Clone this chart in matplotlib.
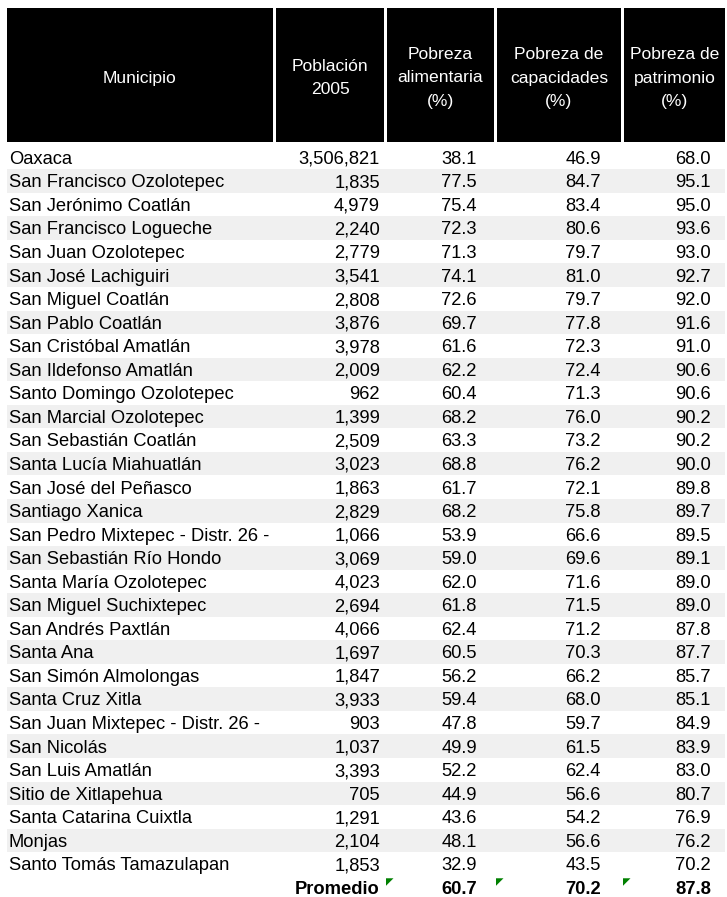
import matplotlib
matplotlib.use("Agg")
import matplotlib.pyplot as plt
from matplotlib.patches import Rectangle, Polygon

plt.rcParams['font.family'] = ['Liberation Sans', 'DejaVu Sans']

headers = ["Municipio", "Población\n2005", "Pobreza\nalimentaria\n(%)",
           "Pobreza de\ncapacidades\n(%)", "Pobreza de\npatrimonio\n(%)"]

municipios = [
    "Oaxaca", "San Francisco Ozolotepec", "San Jerónimo Coatlán", "San Francisco Logueche",
    "San Juan Ozolotepec", "San José Lachiguiri", "San Miguel Coatlán", "San Pablo Coatlán",
    "San Cristóbal Amatlán", "San Ildefonso Amatlán", "Santo Domingo Ozolotepec",
    "San Marcial Ozolotepec", "San Sebastián Coatlán", "Santa Lucía Miahuatlán",
    "San José del Peñasco", "Santiago Xanica", "San Pedro Mixtepec - Distr. 26 -",
    "San Sebastián Río Hondo", "Santa María Ozolotepec", "San Miguel Suchixtepec",
    "San Andrés Paxtlán", "Santa Ana", "San Simón Almolongas", "Santa Cruz Xitla",
    "San Juan Mixtepec - Distr. 26 -", "San Nicolás", "San Luis Amatlán",
    "Sitio de Xitlapehua", "Santa Catarina Cuixtla", "Monjas", "Santo Tomás Tamazulapan",
]
poblacion = [3506821, 1835, 4979, 2240, 2779, 3541, 2808, 3876, 3978, 2009, 962, 1399,
             2509, 3023, 1863, 2829, 1066, 3069, 4023, 2694, 4066, 1697, 1847, 3933,
             903, 1037, 3393, 705, 1291, 2104, 1853]
alimentaria = [38.1, 77.5, 75.4, 72.3, 71.3, 74.1, 72.6, 69.7, 61.6, 62.2, 60.4, 68.2,
               63.3, 68.8, 61.7, 68.2, 53.9, 59.0, 62.0, 61.8, 62.4, 60.5, 56.2, 59.4,
               47.8, 49.9, 52.2, 44.9, 43.6, 48.1, 32.9]
capacidades = [46.9, 84.7, 83.4, 80.6, 79.7, 81.0, 79.7, 77.8, 72.3, 72.4, 71.3, 76.0,
               73.2, 76.2, 72.1, 75.8, 66.6, 69.6, 71.6, 71.5, 71.2, 70.3, 66.2, 68.0,
               59.7, 61.5, 62.4, 56.6, 54.2, 56.6, 43.5]
patrimonio = [68.0, 95.1, 95.0, 93.6, 93.0, 92.7, 92.0, 91.6, 91.0, 90.6, 90.6, 90.2,
              90.2, 90.0, 89.8, 89.7, 89.5, 89.1, 89.0, 89.0, 87.8, 87.7, 85.7, 85.1,
              84.9, 83.9, 83.0, 80.7, 76.9, 76.2, 70.2]
promedio_label = "Promedio"
promedio = [60.7, 70.2, 87.8]

W, H = 727, 897
fig = plt.figure(figsize=(W / 100, H / 100), dpi=100)
ax = fig.add_axes([0, 0, 1, 1])
ax.set_xlim(0, W)
ax.set_ylim(H, 0)
ax.axis('off')

FS = 13.2
HFS = 12.6
col_edges = [(7, 273), (276, 384), (387, 494), (497, 621), (624, 725)]
head_top, head_bot = 8, 142
head_mid = 76.5
line_pitch = 23.5
for (x0, x1), h in zip(col_edges, headers):
    ax.add_patch(Rectangle((x0, head_top), x1 - x0, head_bot - head_top, color='black', lw=0))
    lines = h.split("\n")
    n = len(lines)
    for k, ln in enumerate(lines):
        cy = head_mid + (k - (n - 1) / 2) * line_pitch
        ax.text((x0 + x1) / 2, cy + 6.0, ln, color='white', ha='center',
                va='baseline', fontsize=HFS)

row_h = 23.55
c0 = 157.5
right_x = [380, 477, 601, 711]
name_x = 9

for i, name in enumerate(municipios):
    cy = c0 + row_h * i
    if i % 2 == 1:
        ax.add_patch(Rectangle((7, cy - row_h / 2), 718, row_h, color='#f0f0f0', lw=0))
    base = cy + 6.3
    ax.text(name_x, base, name, ha='left', va='baseline', fontsize=FS, color='black')
    vals = [f"{poblacion[i]:,}", f"{alimentaria[i]:.1f}", f"{capacidades[i]:.1f}",
            f"{patrimonio[i]:.1f}"]
    for x, v in zip(right_x, vals):
        ax.text(x, base, v, ha='right', va='baseline', fontsize=FS, color='black')

# Promedio row
cy = c0 + row_h * len(municipios)
base = cy + 6.3
ax.text(right_x[0], base, promedio_label, ha='right', va='baseline', fontsize=FS,
        fontweight='bold', color='black')
for x, v in zip(right_x[1:], promedio):
    ax.text(x, base, f"{v:.1f}", ha='right', va='baseline', fontsize=FS,
            fontweight='bold', color='black')

# Excel green error indicators
tri_top = cy - row_h / 2 + 2.5
for x0 in [386, 496, 623]:
    ax.add_patch(Polygon([(x0, tri_top), (x0 + 7.5, tri_top), (x0, tri_top + 7.5)],
                         closed=True, color='#008000', lw=0))

fig.savefig("out.png", dpi=100)
